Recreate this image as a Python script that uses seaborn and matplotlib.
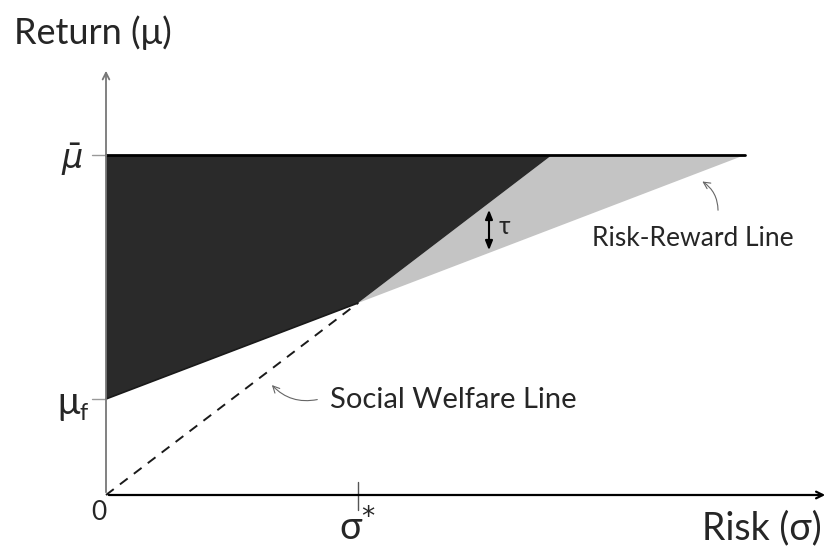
import matplotlib
matplotlib.use("Agg")
import matplotlib.pyplot as plt
import seaborn as sns
import pandas as pd

# values (1 unit = 100 px of the original)
mu_f = 0.96          # risk-free return
mu_bar = 3.40        # upper return bound
sigma_star = 2.52    # kink of the frontier
mu_star = 1.92       # return at sigma*
sigma_cross = 4.46   # social welfare line meets mu_bar
sigma_max = 6.39     # risk-reward line meets mu_bar
tau_sigma = 3.83     # position of the tau arrow
tau_top = 2.88
tau_bottom = 2.42

# polygons / lines built from those values
dark_sigma = [0, sigma_cross, sigma_star, 0]
dark_mu = [mu_bar, mu_bar, mu_star, mu_f]
light_sigma = [sigma_cross, sigma_max, sigma_star]
light_mu = [mu_bar, mu_bar, mu_star]
welfare = pd.DataFrame({'sigma': [0, sigma_star], 'mu': [0, mu_star]})
frontier = pd.DataFrame({'sigma': [0, sigma_star], 'mu': [mu_f, mu_star]})
top = pd.DataFrame({'sigma': [0, sigma_max], 'mu': [mu_bar, mu_bar]})

sns.set_theme(style="white")
plt.rcParams['font.family'] = ['Lato', 'DejaVu Sans']

fig = plt.figure(figsize=(8.29, 5.49), dpi=100)
ax = fig.add_axes([0, 0, 1, 1])
ax.set_xlim(-1.06, 7.23)
ax.set_ylim(-0.54, 4.95)
ax.axis('off')

# shaded regions
ax.fill(light_sigma, light_mu, color='#c4c4c4', lw=0)
ax.fill(dark_sigma, dark_mu, color='#2a2a2a', lw=0)

# lines
sns.lineplot(data=top, x='sigma', y='mu', color='black', lw=2, ax=ax)
sns.lineplot(data=frontier, x='sigma', y='mu', color='#1a1a1a', lw=1.2, ax=ax)
sns.lineplot(data=welfare, x='sigma', y='mu', color='#1a1a1a', lw=1.4,
             linestyle=(0, (5, 4)), ax=ax)
ax.set_axis_off()

# axes arrows
ax.annotate('', xy=(0, 4.27), xytext=(0, 0),
            arrowprops=dict(arrowstyle='->', color='#777777', lw=1.3))
ax.annotate('', xy=(7.22, 0), xytext=(0, 0),
            arrowprops=dict(arrowstyle='->', color='black', lw=1.6))

# small ticks
ax.plot([-0.14, 0], [mu_bar, mu_bar], color='#999999', lw=1)
ax.plot([-0.14, 0], [mu_f, mu_f], color='#999999', lw=1)
ax.plot([sigma_star, sigma_star], [0.13, -0.15], color='#555555', lw=1)

# tau arrow
ax.annotate('', xy=(tau_sigma, tau_bottom), xytext=(tau_sigma, tau_top),
            arrowprops=dict(arrowstyle='<|-|>,head_length=0.45,head_width=0.18',
                            color='black', lw=1.5))
ax.text(tau_sigma + 0.1, (tau_top + tau_bottom) / 2 + 0.03, 'τ', fontsize=18,
        va='center', ha='left')

# labels
ax.text(-0.92, 4.62, 'Return (μ)', fontsize=26, va='center', ha='left')
ax.text(7.16, -0.33, 'Risk (σ)', fontsize=27, va='center', ha='right')
ax.text(-0.07, -0.17, '0', fontsize=19, va='center', ha='center')
ax.text(sigma_star, -0.33, 'σ$^{*}$', fontsize=27, va='center', ha='center')
ax.text(-0.34, mu_bar - 0.05, r'$\bar{\mu}$', fontsize=24, va='center', ha='center')
ax.text(-0.37, mu_f - 0.04, 'μ', fontsize=27, va='center', ha='center')
ax.text(-0.22, mu_f - 0.14, 'f', fontsize=17, va='center', ha='center')

ax.text(2.24, 0.95, 'Social Welfare Line', fontsize=21, va='center', ha='left')
ax.text(4.86, 2.57, 'Risk-Reward Line', fontsize=19, va='center', ha='left')

# hand-drawn pointers
ax.annotate('', xy=(1.64, 1.12), xytext=(2.14, 0.96),
            arrowprops=dict(arrowstyle='->', color='#666666', lw=0.8,
                            connectionstyle='arc3,rad=-0.3'))
ax.annotate('', xy=(5.94, 3.15), xytext=(6.12, 2.82),
            arrowprops=dict(arrowstyle='->', color='#666666', lw=0.8,
                            connectionstyle='arc3,rad=0.3'))

fig.savefig('out.png', dpi=100)
